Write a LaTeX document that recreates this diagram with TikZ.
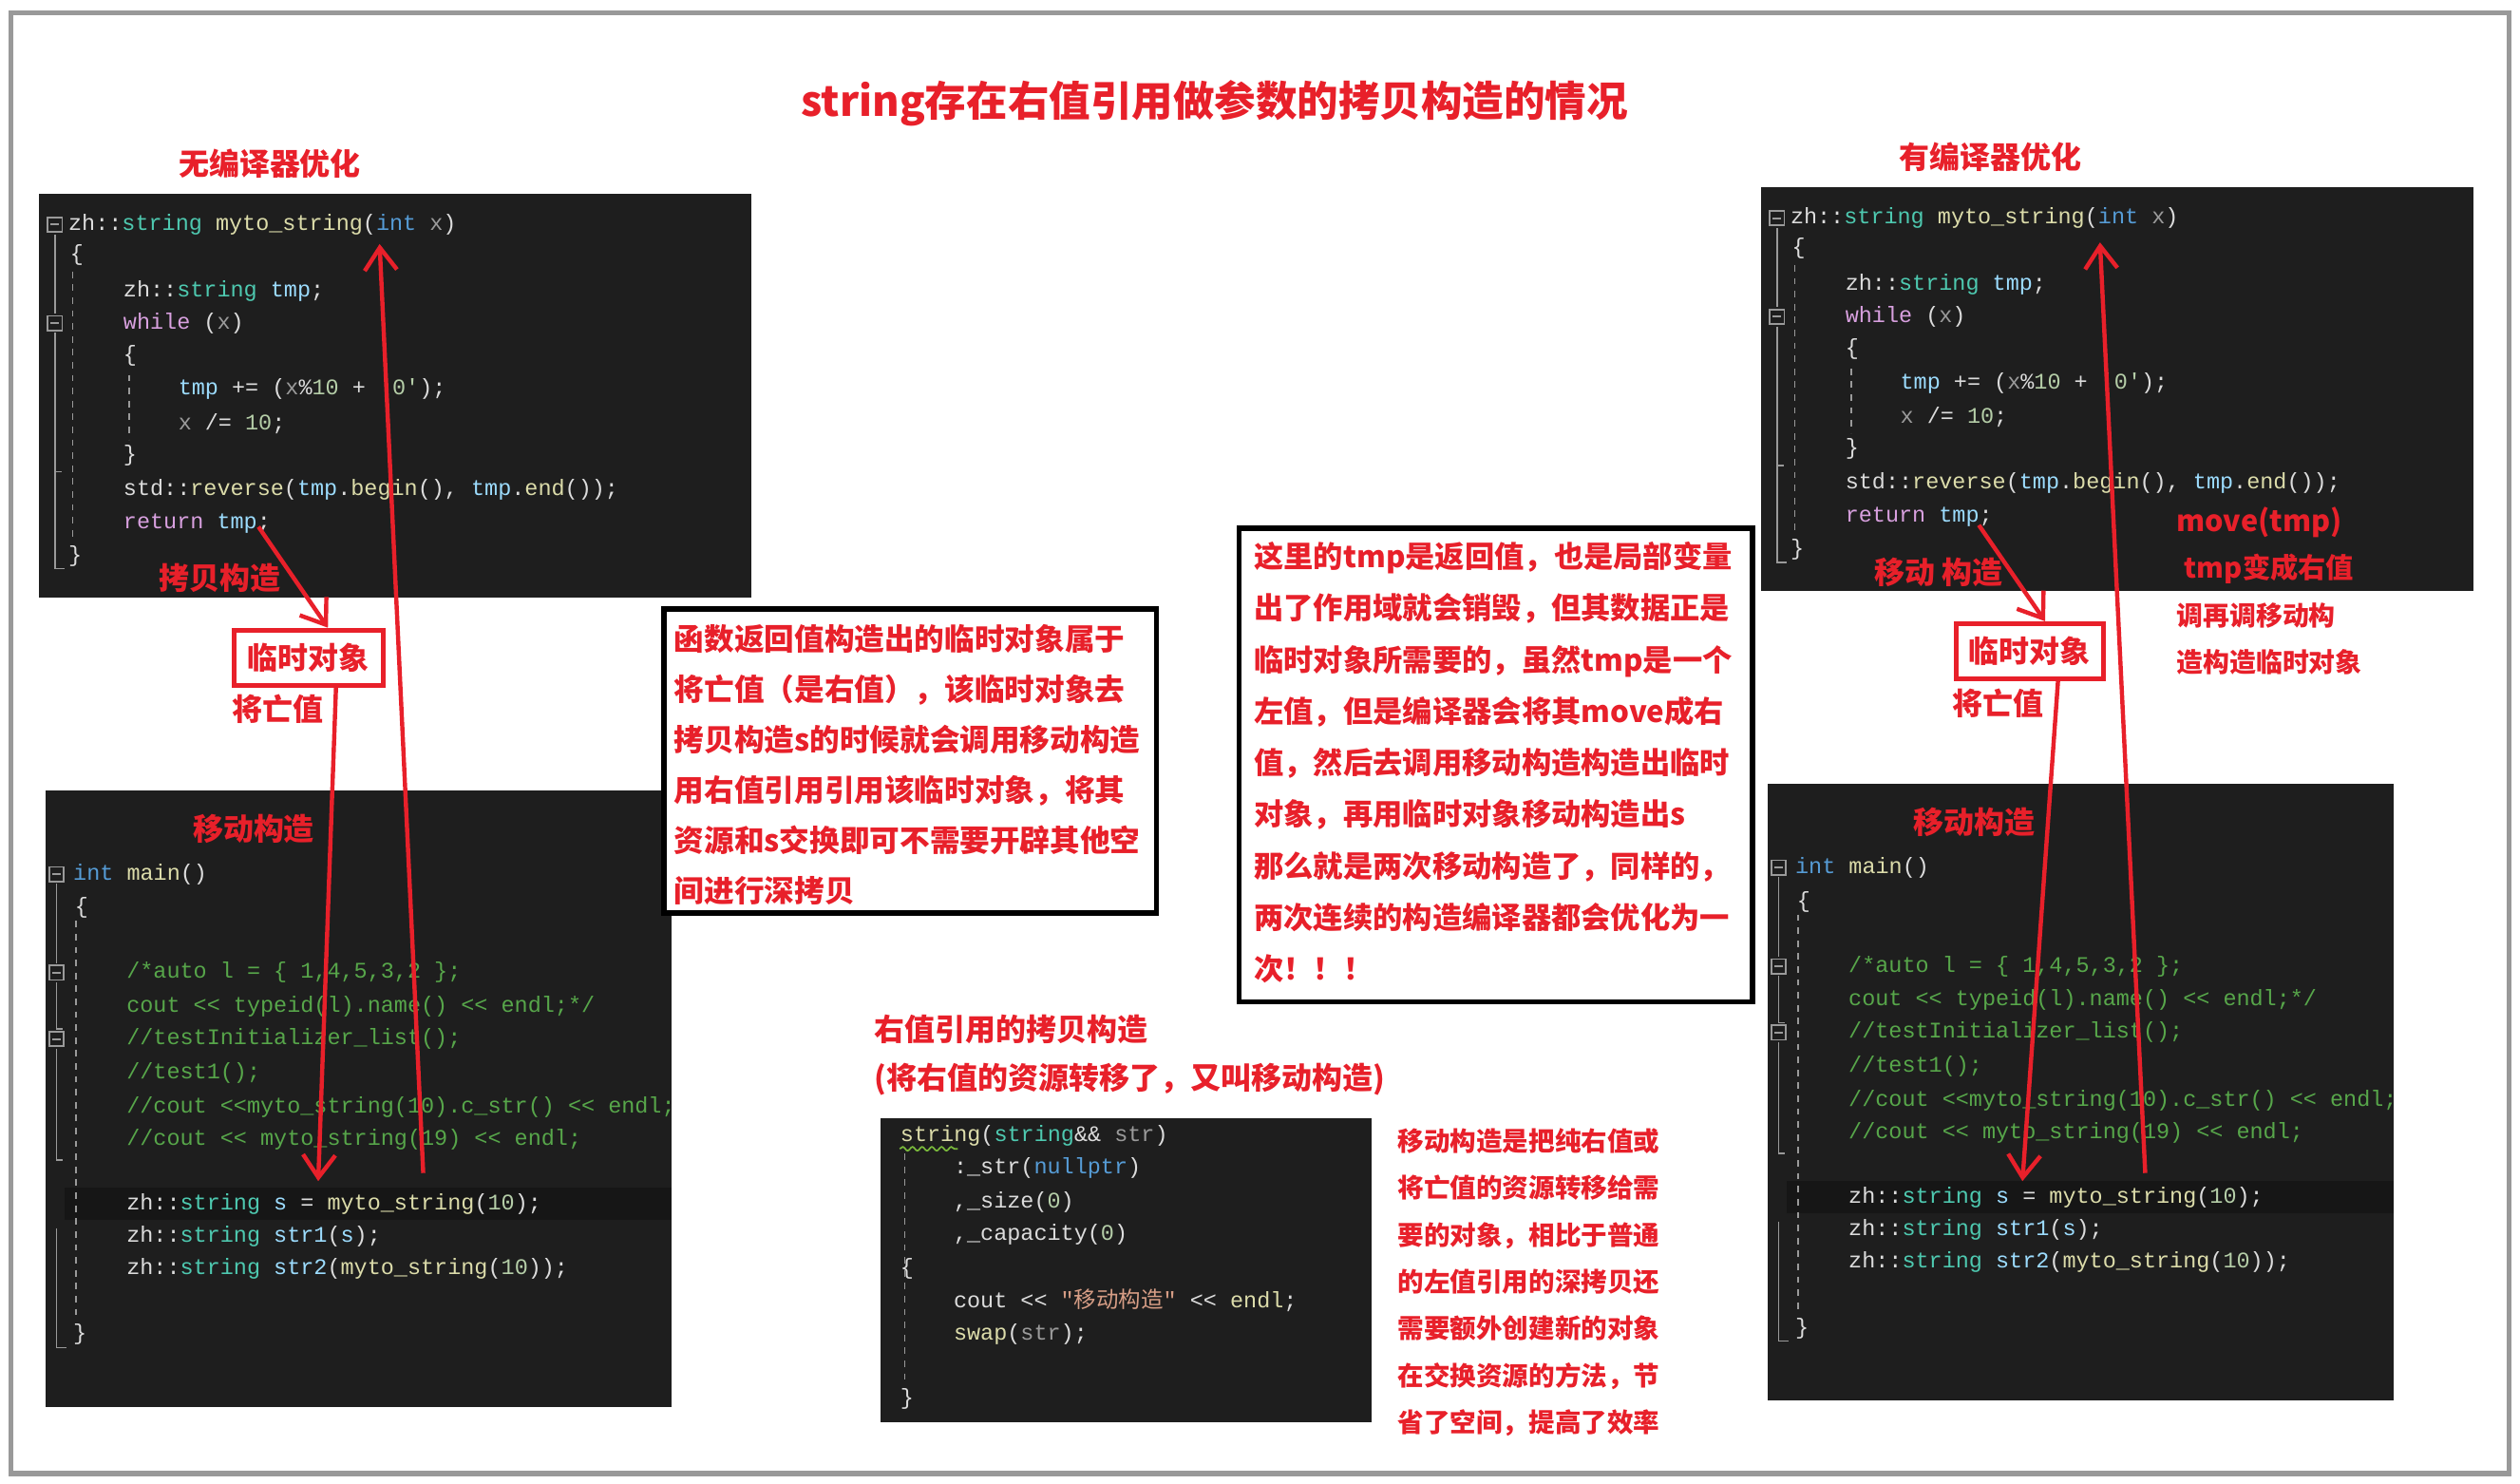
\documentclass[tikz,border=0pt]{standalone}
\usepackage{fontspec}
\usetikzlibrary{arrows.meta,decorations.pathmorphing}
\newfontfamily\cjk{Noto Sans CJK SC}
\newfontfamily\codef{Liberation Mono}
\definecolor{codebg}{HTML}{1E1E1E}
\definecolor{cdef}{HTML}{DCDCDC}
\definecolor{cty}{HTML}{4EC9B0}
\definecolor{ckw}{HTML}{569CD6}
\definecolor{cpu}{HTML}{D8A0DF}
\definecolor{cva}{HTML}{9CDCFE}
\definecolor{cfn}{HTML}{DCDCAA}
\definecolor{ccm}{HTML}{57A64A}
\definecolor{cst}{HTML}{D69D85}
\definecolor{cnu}{HTML}{B5CEA8}
\definecolor{cgr}{HTML}{9A9A9A}
\definecolor{myred}{HTML}{E8202A}
\newcommand\xty[1]{\textcolor{cty}{#1}}
\newcommand\xkw[1]{\textcolor{ckw}{#1}}
\newcommand\xpu[1]{\textcolor{cpu}{#1}}
\newcommand\xva[1]{\textcolor{cva}{#1}}
\newcommand\xfn[1]{\textcolor{cfn}{#1}}
\newcommand\xcm[1]{\textcolor{ccm}{#1}}
\newcommand\xst[1]{\textcolor{cst}{#1}}
\newcommand\xnu[1]{\textcolor{cnu}{#1}}
\newcommand\xgr[1]{\textcolor{cgr}{#1}}
\newcommand\lt{\textless\textless}
\newcommand\cln[4]{\node[codeline] (#1) at (#2,#3) {#4};}
\newcommand\fold[3]{\node[foldbox] (#1) at (#2,#3) {};\draw[cgr,line width=0.6pt] ([xshift=-1.3pt]#1.center)--([xshift=1.3pt]#1.center);}
\tikzset{
  codeline/.style={anchor=west,inner sep=0pt,text=cdef,font=\codef\fontsize{6.9}{8}\selectfont},
  foldbox/.style={draw=cgr,line width=0.5pt,minimum size=4.5pt,inner sep=0pt},
  redlbl/.style={text=myred,font=\cjk\bfseries\fontsize{9.4}{11}\selectfont,inner sep=0pt},
  redbox/.style={draw=myred,line width=1.5pt,text=myred,font=\cjk\bfseries\fontsize{9.4}{11}\selectfont,inner sep=0pt},
  para/.style={text=myred,font=\cjk\bfseries\fontsize{9.7}{15.8}\selectfont,anchor=north west,align=left,inner sep=0pt},
  redarrow/.style={draw=myred,line width=1.3pt,-{Straight Barb[length=7pt,width=10pt,line width=1.3pt]}},
  blkbox/.style={draw=black,line width=1.6pt,fill=white},
}
\newcommand\codeA{%
  \fill[codebg] (24,120) rectangle (465,370);
  \begin{scope}
  \clip (24,120) rectangle (465,370);
  \fold{fa}{34}{139}\fold{fb}{34}{200}
  \draw[cgr,line width=0.5pt] (34,145)--(34,194) (34,206)--(34,292)--(38,292) (34,292)--(34,352)--(40,352);
  \draw[cgr,line width=0.4pt,dash pattern=on 2pt off 2pt] (45,168)--(45,335) (80,232)--(80,272);
  \cln{a1}{42}{139}{zh::\xty{string} \xfn{myto\_string}(\xkw{int} \xgr{x})}
  \cln{a2}{43}{158}{\{}
  \cln{a3}{76}{180}{zh::\xty{string} \xva{tmp};}
  \cln{a4}{76}{200}{\xpu{while} (\xgr{x})}
  \cln{a5}{76}{220}{\{}
  \cln{a6}{110}{241}{\xva{tmp} += (\xgr{x}\%\xnu{10} + \xnu{'0'});}
  \cln{a7}{110}{262}{\xgr{x} /= \xnu{10};}
  \cln{a8}{76}{282}{\}}
  \cln{a9}{76}{303}{std::\xfn{reverse}(\xva{tmp}.\xfn{begin}(), \xva{tmp}.\xfn{end}());}
  \cln{a10}{76}{324}{\xpu{return} \xva{tmp};}
  \cln{a11}{42}{344}{\}}
  \end{scope}}
\newcommand\codeB{%
  \fill[codebg] (28,489) rectangle (416,871);
  \begin{scope}
  \clip (28,489) rectangle (416,871);
  \fill[black!25!codebg] (40,735) rectangle (416,755);
  \fold{fc}{35}{541}\fold{fd}{35}{602}\fold{fe}{35}{643}
  \draw[cgr,line width=0.5pt] (35,547)--(35,596) (35,608)--(35,637)--(39,637) (35,649)--(35,718)--(39,718) (35,760)--(35,834)--(41,834);
  \draw[cgr,line width=0.4pt,dash pattern=on 2pt off 2pt] (47,570)--(47,815);
  \cln{b1}{45}{541}{\xkw{int} \xfn{main}()}
  \cln{b2}{46}{562}{\{}
  \cln{b3}{78}{602}{\xcm{/*auto l = \{ 1,4,5,3,2 \};}}
  \cln{b4}{78}{623}{\xcm{cout \lt{} typeid(l).name() \lt{} endl;*/}}
  \cln{b5}{78}{643}{\xcm{//testInitializer\_list();}}
  \cln{b6}{78}{664}{\xcm{//test1();}}
  \cln{b7}{78}{685}{\xcm{//cout \lt{}myto\_string(10).c\_str() \lt{} endl;}}
  \cln{b8}{78}{705}{\xcm{//cout \lt{} myto\_string(19) \lt{} endl;}}
  \cln{b9}{78}{745}{zh::\xty{string} \xva{s} = \xfn{myto\_string}(\xnu{10});}
  \cln{b10}{78}{765}{zh::\xty{string} \xva{str1}(\xva{s});}
  \cln{b11}{78}{785}{zh::\xty{string} \xva{str2}(\xfn{myto\_string}(\xnu{10}));}
  \cln{b12}{45}{826}{\}}
  \end{scope}}
\begin{document}
\begin{tikzpicture}[x=0.5pt,y=-0.5pt]
\useasboundingbox (0,0) rectangle (1560,918);
\fill[white] (0,0) rectangle (1560,918);
\draw[gray!80,line width=1.5pt] (7,8) rectangle (1553,912);
\node[text=myred,font=\cjk\bfseries\fontsize{12.8}{15}\selectfont,inner sep=0pt] (title) at (752,64) {string存在右值引用做参数的拷贝构造的情况};
% ---------- left ----------
\node[redlbl] (noopt) at (167,101) {无编译器优化};
\codeA
\codeB
\node[redlbl] (copyc) at (136,358) {拷贝构造};
\node[redbox,minimum width=46pt,minimum height=17pt] (tmpL) at (191,407) {临时对象};
\node[redlbl] (xvL) at (172,439) {将亡值};
\node[redlbl] (movL) at (157,513) {移动构造};
\coordinate (tmpEndL) at (160,326);
\draw[redarrow] (tmpEndL) -- (tmpL.north -| 203,0);
\coordinate (mainInL) at (197,731);
\draw[redarrow] (tmpL.south -| 208,0) -- (mainInL);
\coordinate (sL) at (262,726);
\coordinate (fnL) at (235,151);
\draw[redarrow] (sL) -- (fnL);
% ---------- right ----------
\node[redlbl] (opt) at (1232,97) {有编译器优化};
\begin{scope}[shift={(1066,-4)},name prefix=r-]
\codeA
\codeB
\end{scope}
\node[redlbl] (movR1) at (1200,354) {移动 构造};
\node[redbox,minimum width=45.5pt,minimum height=17pt] (tmpR) at (1256.5,403) {临时对象};
\node[redlbl] (xvR) at (1237,435) {将亡值};
\node[redlbl] (movR) at (1222,509) {移动构造};
\node[text=myred,font=\cjk\bfseries\fontsize{9}{11}\selectfont,inner sep=0pt,anchor=west] (mv) at (1347,323) {move(tmp)};
\node[text=myred,font=\cjk\bfseries\fontsize{8.6}{11}\selectfont,inner sep=0pt,anchor=west] (mv2) at (1352,352) {tmp变成右值};
\node[text=myred,font=\cjk\bfseries\fontsize{8.2}{11}\selectfont,inner sep=0pt,anchor=west] (mv3) at (1347,381) {调再调移动构};
\node[text=myred,font=\cjk\bfseries\fontsize{8.2}{11}\selectfont,inner sep=0pt,anchor=west] (mv4) at (1347,410) {造构造临时对象};
\coordinate (tmpEndR) at (1225,325);
\draw[redarrow] (tmpEndR) -- (tmpR.north -| 1266,0);
\coordinate (mainInR) at (1252,731);
\draw[redarrow] (tmpR.south -| 1274,0) -- (mainInR);
\coordinate (sR) at (1328,726);
\coordinate (fnR) at (1300,150);
\draw[redarrow] (sR) -- (fnR);
% ---------- middle text boxes ----------
\draw[blkbox] (411,377) rectangle (716,565);
\node[para,font=\cjk\bfseries\fontsize{9.3}{15.6}\selectfont] (t1) at (417,386) {函数返回值构造出的临时对象属于\\将亡值（是右值），该临时对象去\\拷贝构造s的时候就会调用移动构造\\用右值引用引用该临时对象，将其\\资源和s交换即可不需要开辟其他空\\间进行深拷贝};
\draw[blkbox] (767,327) rectangle (1085,620);
\node[para,font=\cjk\bfseries\fontsize{9.2}{15.95}\selectfont] (t2) at (776,335) {这里的tmp是返回值，也是局部变量\\出了作用域就会销毁，但其数据正是\\临时对象所需要的，虽然tmp是一个\\左值，但是编译器会将其move成右\\值，然后去调用移动构造构造出临时\\对象，再用临时对象移动构造出s\\那么就是两次移动构造了，同样的，\\两次连续的构造编译器都会优化为一\\次！！！};
% ---------- move ctor ----------
\node[redlbl,anchor=west] (rvt) at (541,637) {右值引用的拷贝构造};
\node[redlbl,anchor=west] (rvt2) at (541,668) {(将右值的资源转移了，又叫移动构造)};
\fill[codebg] (545,692) rectangle (849,880);
\draw[cgr,line width=0.4pt,dash pattern=on 2pt off 2pt] (560,714)--(560,855);
\draw[ccm!80!yellow,line width=0.5pt,decorate,decoration={snake,amplitude=0.6pt,segment length=3pt}] (557,711)--(593,711);
\cln{m1}{557}{703}{\xfn{string}(\xty{string}\&\& \xgr{str})}
\cln{m2}{590}{723}{:\_str(\xkw{nullptr})}
\cln{m3}{590}{744}{,\_size(\xnu{0})}
\cln{m4}{590}{764}{,\_capacity(\xnu{0})}
\cln{m5}{557}{785}{\{}
\cln{m6}{590}{805}{cout \lt{} \xst{"{\cjk 移动构造}"} \lt{} \xfn{endl};}
\cln{m7}{590}{826}{\xfn{swap}(\xgr{str});}
\cln{m8}{557}{866}{\}}
\node[para,font=\cjk\bfseries\fontsize{8.1}{14.5}\selectfont] (t3) at (865,698) {移动构造是把纯右值或\\将亡值的资源转移给需\\要的对象，相比于普通\\的左值引用的深拷贝还\\需要额外创建新的对象\\在交换资源的方法，节\\省了空间，提高了效率};
\end{tikzpicture}
\end{document}
